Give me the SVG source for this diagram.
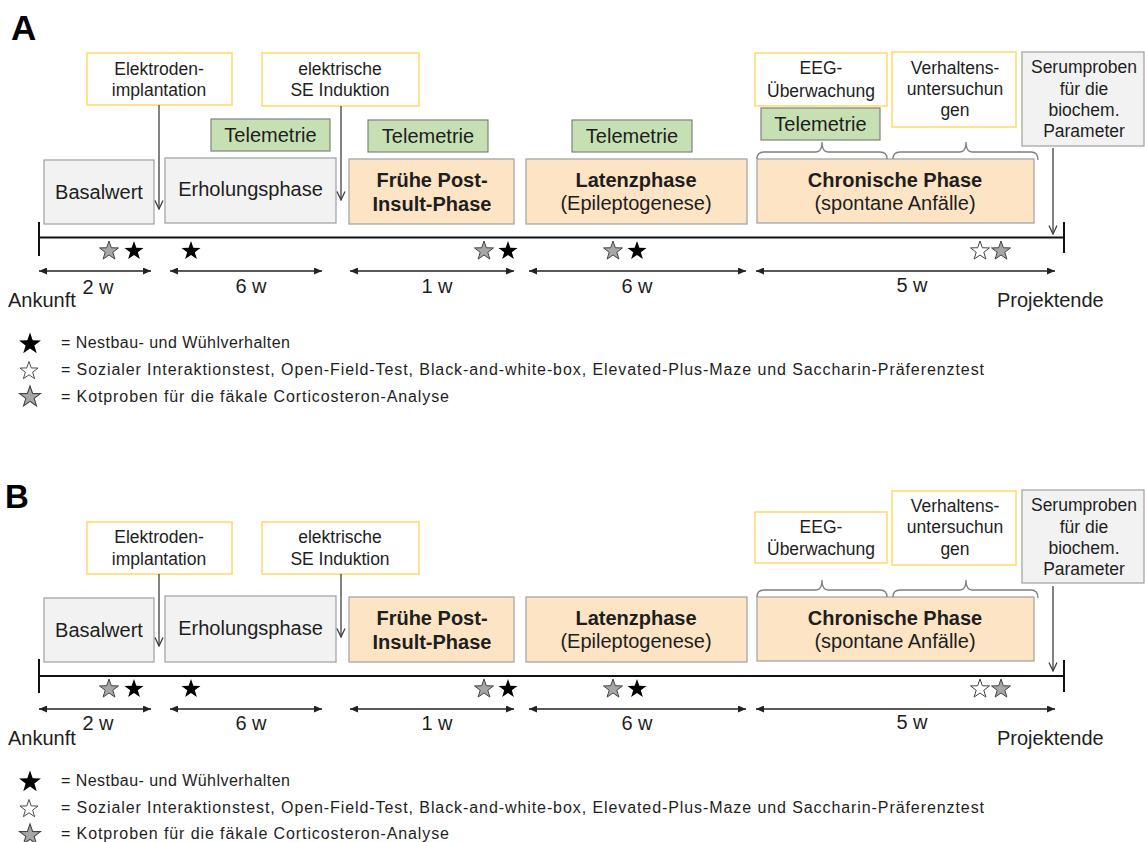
<svg xmlns="http://www.w3.org/2000/svg" width="1145" height="842" viewBox="0 0 1145 842">
<defs>
<style>
text{font-family:"Liberation Sans",Arial,sans-serif;fill:#1e1e1e}
.ann{fill:#fff;stroke:#FFD966;stroke-width:1.5}
.tel{fill:#C6E0B4;stroke:#808080;stroke-width:1.2}
.gray{fill:#F2F2F2;stroke:#A6A6A6;stroke-width:1.3}
.peach{fill:#FCE4C4;stroke:#A6A6A6;stroke-width:1.3}
.t17{font-size:17.5px;text-anchor:middle}
.t20{font-size:20px;text-anchor:middle}
.b20{font-size:20px;font-weight:bold;text-anchor:middle}
.lbl{font-size:20px}
.leg{font-size:16px}
.conn{stroke:#404040;stroke-width:1.3;fill:none;marker-end:url(#open)}
.dur{stroke:#222;stroke-width:1.3;fill:none;marker-start:url(#tri);marker-end:url(#tri)}
.tl{stroke:#111;stroke-width:2;fill:none}
.tick{stroke:#111;stroke-width:2}
.brace{stroke:#7F7F7F;stroke-width:1.3;fill:none}
.sb{fill:#000}
.sg{fill:#A6A6A6;stroke:#444;stroke-width:1}
.sw{fill:#fff;stroke:#444;stroke-width:1}
</style>
<marker id="open" viewBox="0 0 10 10" refX="9.5" refY="5" markerWidth="10" markerHeight="10" markerUnits="userSpaceOnUse" orient="auto">
<path d="M1,1 L9.5,5 L1,9" fill="none" stroke="#404040" stroke-width="1.3"/>
</marker>
<marker id="tri" viewBox="0 0 8 7" refX="8" refY="3.5" markerWidth="8" markerHeight="7" markerUnits="userSpaceOnUse" orient="auto-start-reverse">
<path d="M0,0 L8,3.5 L0,7 Z" fill="#222"/>
</marker>
<path id="star" d="M0,-10 L2.351,-3.236 L9.511,-3.09 L3.804,1.236 L5.878,8.09 L0,4 L-5.878,8.09 L-3.804,1.236 L-9.511,-3.09 L-2.351,-3.236 Z"/>
</defs>
<rect width="1145" height="842" fill="#fff"/>

<!-- ================= PANEL A ================= -->
<g id="panelA">
<text x="11" y="40" style="font-size:35px;font-weight:bold;fill:#000">A</text>

<g id="A-elektroden"><rect class="ann" x="87" y="53" width="145" height="52"/>
<text class="t17" x="159" y="75">Elektroden-</text><text class="t17" x="159" y="96">implantation</text></g>
<g id="A-induktion"><rect class="ann" x="262" y="53" width="157" height="53"/>
<text class="t17" x="340" y="75">elektrische</text><text class="t17" x="340" y="96">SE Induktion</text></g>
<g id="A-eeg"><rect class="ann" x="755" y="53" width="132" height="53"/>
<text class="t17" x="821" y="74">EEG-</text><text class="t17" x="821" y="97">Überwachung</text></g>
<g id="A-verhalten"><rect class="ann" x="892" y="52" width="124" height="75"/>
<text class="t17" x="955" y="74">Verhaltens-</text><text class="t17" x="955" y="95">untersuchun</text><text class="t17" x="955" y="116">gen</text></g>
<g id="A-serum"><rect class="gray" x="1022" y="52" width="122" height="94"/>
<text class="t17" x="1084" y="73">Serumproben</text><text class="t17" x="1084" y="95">für die</text><text class="t17" x="1084" y="116">biochem.</text><text class="t17" x="1084" y="137">Parameter</text></g>

<g id="A-tel1"><rect class="tel" x="211" y="119" width="119" height="32"/><text class="t20" x="270.5" y="142">Telemetrie</text></g>
<g id="A-tel2"><rect class="tel" x="368" y="120" width="120" height="32"/><text class="t20" x="428" y="143">Telemetrie</text></g>
<g id="A-tel3"><rect class="tel" x="572" y="120" width="120" height="32"/><text class="t20" x="632" y="143">Telemetrie</text></g>
<g id="A-tel4"><rect class="tel" x="761" y="108" width="119" height="32"/><text class="t20" x="820.5" y="131">Telemetrie</text></g>

<g id="A-basal"><rect class="gray" x="44" y="160" width="110" height="64"/><text class="t20" x="99" y="199">Basalwert</text></g>
<g id="A-erholung"><rect class="gray" x="165" y="158" width="171" height="65"/><text class="t20" x="250.5" y="196">Erholungsphase</text></g>
<g id="A-frueh"><rect class="peach" x="349" y="159" width="165" height="65"/>
<text class="b20" x="432" y="187">Frühe Post-</text><text class="b20" x="432" y="211">Insult-Phase</text></g>
<g id="A-latenz"><rect class="peach" x="526" y="159" width="221" height="65"/>
<text class="b20" x="636" y="187">Latenzphase</text><text class="t20" x="636" y="210">(Epileptogenese)</text></g>
<g id="A-chronisch"><rect class="peach" x="757" y="159" width="277" height="64"/>
<text class="b20" x="895" y="187">Chronische Phase</text><text class="t20" x="895" y="210">(spontane Anfälle)</text></g>

<g id="A-braces">
<path class="brace" d="M757,159 Q757,152 764,152 L816,152 Q822,152 822,142 Q822,152 828,152 L880,152 Q887,152 887,159"/>
<path class="brace" d="M893,159 Q893,152 900,152 L960,152 Q966,152 966,142 Q966,152 972,152 L1031,152 Q1038,152 1038,160"/>
</g>

<g id="A-connectors">
<line class="conn" x1="159" y1="105" x2="159" y2="209"/>
<line class="conn" x1="341" y1="106" x2="341" y2="200"/>
<line class="conn" x1="1053" y1="148" x2="1053" y2="234"/>
</g>

<g id="A-timeline">
<line class="tl" x1="39" y1="237.5" x2="1064" y2="237.5"/>
<line class="tick" x1="39" y1="222" x2="39" y2="256"/>
<line class="tick" x1="1064" y1="222" x2="1064" y2="253"/>
</g>

<g id="A-stars">
<use href="#star" class="sg" x="109" y="251"/>
<use href="#star" class="sb" x="134" y="251"/>
<use href="#star" class="sb" x="191" y="251"/>
<use href="#star" class="sg" x="484" y="251"/>
<use href="#star" class="sb" x="508" y="251"/>
<use href="#star" class="sg" x="613" y="251"/>
<use href="#star" class="sb" x="637" y="251"/>
<use href="#star" class="sw" x="980" y="251"/>
<use href="#star" class="sg" x="1001" y="251"/>
</g>

<g id="A-durations">
<line class="dur" x1="39" y1="271" x2="151" y2="271"/>
<line class="dur" x1="170" y1="271" x2="322" y2="271"/>
<line class="dur" x1="350" y1="271" x2="514" y2="271"/>
<line class="dur" x1="529" y1="271" x2="746" y2="271"/>
<line class="dur" x1="756" y1="271" x2="1055" y2="271"/>
<text class="t20" x="98" y="294">2 w</text>
<text class="t20" x="251" y="293">6 w</text>
<text class="t20" x="437" y="293">1 w</text>
<text class="t20" x="637" y="293">6 w</text>
<text class="t20" x="912" y="292">5 w</text>
<text class="lbl" x="8" y="307">Ankunft</text>
<text class="lbl" x="997" y="307">Projektende</text>
</g>

<g id="A-legend">
<use href="#star" class="sb" transform="translate(30,344) scale(1.15)"/>
<use href="#star" class="sw" transform="translate(29,371) scale(0.95)"/>
<use href="#star" class="sg" transform="translate(30,397) scale(1.1)"/>
<text class="leg" x="61" y="348" textLength="229" lengthAdjust="spacing">= Nestbau- und Wühlverhalten</text>
<text class="leg" x="61" y="375" textLength="923" lengthAdjust="spacing">= Sozialer Interaktionstest, Open-Field-Test, Black-and-white-box, Elevated-Plus-Maze und Saccharin-Präferenztest</text>
<text class="leg" x="61" y="402" textLength="388" lengthAdjust="spacing">= Kotproben für die fäkale Corticosteron-Analyse</text>
</g>
</g>

<!-- ================= PANEL B ================= -->
<g id="panelB">
<text x="5" y="508" style="font-size:33px;font-weight:bold;fill:#000">B</text>
<g transform="translate(0,439)">
<g id="B-elektroden"><rect class="ann" x="87" y="83" width="145" height="52"/>
<text class="t17" x="159" y="104">Elektroden-</text><text class="t17" x="159" y="126">implantation</text></g>
<g id="B-induktion"><rect class="ann" x="262" y="83" width="157" height="52"/>
<text class="t17" x="340" y="104">elektrische</text><text class="t17" x="340" y="126">SE Induktion</text></g>
<g id="B-eeg"><rect class="ann" x="755" y="73" width="132" height="51"/>
<text class="t17" x="821" y="94">EEG-</text><text class="t17" x="821" y="116">Überwachung</text></g>
<g id="B-verhalten"><rect class="ann" x="892" y="52" width="124" height="74"/>
<text class="t17" x="955" y="73">Verhaltens-</text><text class="t17" x="955" y="94">untersuchun</text><text class="t17" x="955" y="116">gen</text></g>
<g id="B-serum"><rect class="gray" x="1022" y="51" width="122" height="93"/>
<text class="t17" x="1084" y="72">Serumproben</text><text class="t17" x="1084" y="94">für die</text><text class="t17" x="1084" y="115">biochem.</text><text class="t17" x="1084" y="136">Parameter</text></g>

<g id="B-basal"><rect class="gray" x="44" y="159" width="110" height="64"/><text class="t20" x="99" y="198">Basalwert</text></g>
<g id="B-erholung"><rect class="gray" x="165" y="157" width="171" height="66"/><text class="t20" x="250.5" y="196">Erholungsphase</text></g>
<g id="B-frueh"><rect class="peach" x="349" y="158" width="165" height="65"/>
<text class="b20" x="432" y="186">Frühe Post-</text><text class="b20" x="432" y="210">Insult-Phase</text></g>
<g id="B-latenz"><rect class="peach" x="526" y="158" width="221" height="65"/>
<text class="b20" x="636" y="186">Latenzphase</text><text class="t20" x="636" y="209">(Epileptogenese)</text></g>
<g id="B-chronisch"><rect class="peach" x="757" y="158" width="277" height="64"/>
<text class="b20" x="895" y="186">Chronische Phase</text><text class="t20" x="895" y="209">(spontane Anfälle)</text></g>

<g id="B-braces">
<path class="brace" d="M757,158 Q757,151 764,151 L816,151 Q822,151 822,141 Q822,151 828,151 L880,151 Q887,151 887,158"/>
<path class="brace" d="M893,158 Q893,151 900,151 L960,151 Q966,151 966,141 Q966,151 972,151 L1031,151 Q1038,151 1038,159"/>
</g>

<g id="B-connectors">
<line class="conn" x1="159" y1="135" x2="159" y2="207"/>
<line class="conn" x1="341" y1="135" x2="341" y2="198"/>
<line class="conn" x1="1053" y1="147" x2="1053" y2="232"/>
</g>

<g id="B-timeline">
<line class="tl" x1="39" y1="237" x2="1064" y2="237"/>
<line class="tick" x1="39" y1="220" x2="39" y2="254"/>
<line class="tick" x1="1064" y1="221" x2="1064" y2="253"/>
</g>

<g id="B-stars">
<use href="#star" class="sg" x="109" y="250"/>
<use href="#star" class="sb" x="134" y="250"/>
<use href="#star" class="sb" x="191" y="250"/>
<use href="#star" class="sg" x="484" y="250"/>
<use href="#star" class="sb" x="508" y="250"/>
<use href="#star" class="sg" x="613" y="250"/>
<use href="#star" class="sb" x="637" y="250"/>
<use href="#star" class="sw" x="980" y="250"/>
<use href="#star" class="sg" x="1001" y="250"/>
</g>

<g id="B-durations">
<line class="dur" x1="39" y1="270" x2="151" y2="270"/>
<line class="dur" x1="170" y1="270" x2="322" y2="270"/>
<line class="dur" x1="350" y1="270" x2="514" y2="270"/>
<line class="dur" x1="529" y1="270" x2="746" y2="270"/>
<line class="dur" x1="756" y1="270" x2="1055" y2="270"/>
<text class="t20" x="98" y="291">2 w</text>
<text class="t20" x="251" y="291">6 w</text>
<text class="t20" x="437" y="291">1 w</text>
<text class="t20" x="637" y="291">6 w</text>
<text class="t20" x="912" y="290">5 w</text>
<text class="lbl" x="8" y="306">Ankunft</text>
<text class="lbl" x="997" y="306">Projektende</text>
</g>

<g id="B-legend">
<use href="#star" class="sb" transform="translate(30,343) scale(1.15)"/>
<use href="#star" class="sw" transform="translate(29,370) scale(0.95)"/>
<use href="#star" class="sg" transform="translate(30,396) scale(1.1)"/>
<text class="leg" x="61" y="347" textLength="229" lengthAdjust="spacing">= Nestbau- und Wühlverhalten</text>
<text class="leg" x="61" y="374" textLength="923" lengthAdjust="spacing">= Sozialer Interaktionstest, Open-Field-Test, Black-and-white-box, Elevated-Plus-Maze und Saccharin-Präferenztest</text>
<text class="leg" x="61" y="400" textLength="388" lengthAdjust="spacing">= Kotproben für die fäkale Corticosteron-Analyse</text>
</g>
</g>
</g>
</svg>
